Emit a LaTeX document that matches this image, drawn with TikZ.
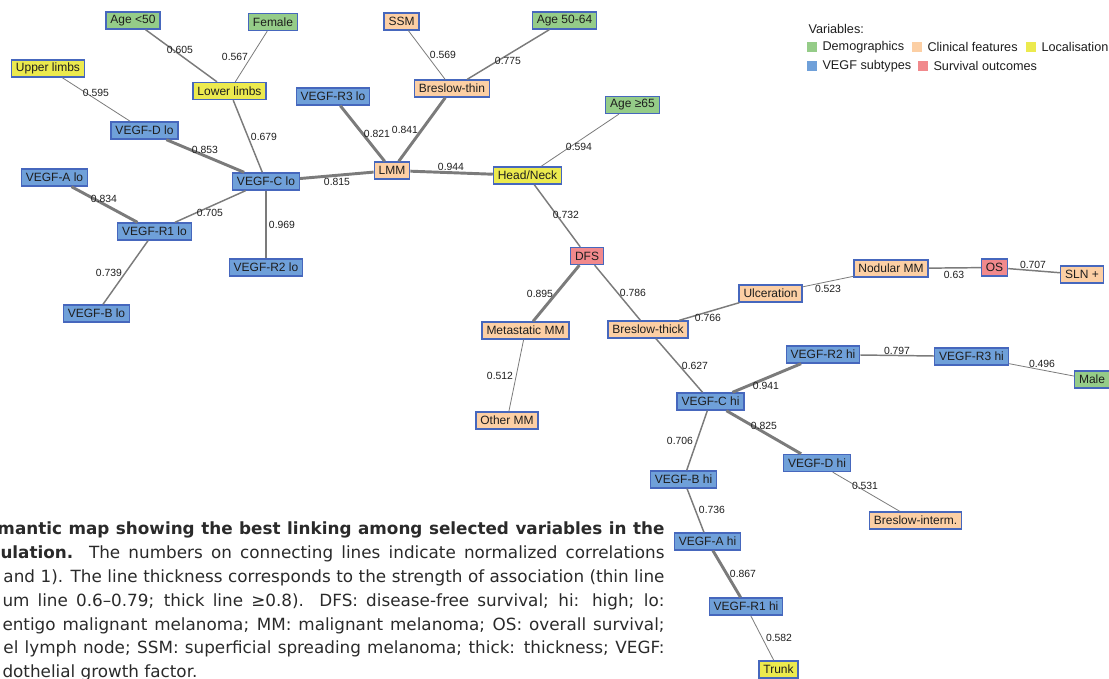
\documentclass[tikz,border=0pt]{standalone}
\usepackage{fontspec}
\setmainfont{Liberation Sans}
\newfontfamily\capfont{DejaVu Sans}

\definecolor{cdemo}{HTML}{95CC88}
\definecolor{cclin}{HTML}{FCCFA4}
\definecolor{cloc}{HTML}{ECEA4E}
\definecolor{cvegf}{HTML}{6FA0D9}
\definecolor{csurv}{HTML}{F1898C}
\definecolor{cborder}{HTML}{4667BD}
\definecolor{cedge}{HTML}{7B7B7B}
\definecolor{ctext}{HTML}{1E1E1E}
\definecolor{ccap}{HTML}{2A2A2A}

\tikzset{every picture/.style={line width=0.75pt}}
\tikzset{
  var/.style={draw=cborder, line width=1pt, minimum height=12.75pt, inner xsep=3.3pt, inner ysep=0pt,
    text=ctext, font=\fontsize{9}{10}\selectfont},
  demo/.style={var, fill=cdemo},
  clin/.style={var, fill=cclin},
  loc/.style={var, fill=cloc},
  vegf/.style={var, fill=cvegf},
  surv/.style={var, fill=csurv},
  weak/.style={draw=cedge, line width=0.6pt},
  moderate/.style={draw=cedge, line width=1.1pt},
  strong/.style={draw=cedge, line width=2.2pt},
  corr/.style={inner sep=0.75pt, text=ctext, font=\fontsize{7.8}{9}\selectfont},
  legtext/.style={anchor=west, inner sep=0pt, text=ctext, font=\fontsize{9.5}{11}\selectfont},
  swatch/.style={minimum size=7.5pt, inner sep=0pt},
  capline/.style={anchor=base west, inner sep=0pt, text=ccap, font=\capfont\fontsize{12.6}{18}\selectfont}
}

\begin{document}
\begin{tikzpicture}[x=0.75pt,y=0.75pt,yscale=-1,xscale=1]
\path[use as bounding box] (0,0) rectangle (1109,678);

% Variables
\node[demo] (age50) at (133,20.5) {Age <50};
\node[demo] (female) at (273,22) {Female};
\node[clin] (ssm) at (401.5,21.5) {SSM};
\node[demo] (age5064) at (564.5,20.5) {Age 50-64};
\node[loc] (uplimb) at (48,68.5) {Upper limbs};
\node[loc] (lowlimb) at (229.5,91) {Lower limbs};
\node[vegf] (r3lo) at (333,96.5) {VEGF-R3 lo};
\node[clin] (bthin) at (452,88.5) {Breslow-thin};
\node[demo] (age65) at (632.5,105) {Age ≥65};
\node[vegf] (dlo) at (144.5,130.5) {VEGF-D lo};
\node[clin] (lmm) at (392,170.5) {LMM};
\node[loc] (headneck) at (527.5,175.5) {Head/Neck};
\node[vegf] (alo) at (54.5,177.5) {VEGF-A lo};
\node[vegf] (clo) at (266,181.5) {VEGF-C lo};
\node[vegf] (r1lo) at (154.5,231.5) {VEGF-R1 lo};
\node[vegf] (r2lo) at (266,267.5) {VEGF-R2 lo};
\node[surv] (dfs) at (587,256) {DFS};
\node[vegf] (blo) at (96.5,313.5) {VEGF-B lo};
\node[clin] (nodular) at (891,268.5) {Nodular MM};
\node[surv] (os) at (994.5,267.5) {OS};
\node[clin] (sln) at (1082,274.5) {SLN +};
\node[clin] (ulcer) at (770.5,293.5) {Ulceration};
\node[clin] (metmm) at (525.5,330.5) {Metastatic MM};
\node[clin] (bthick) at (648,329.5) {Breslow-thick};
\node[vegf] (r2hi) at (823,354.5) {VEGF-R2 hi};
\node[vegf] (r3hi) at (971.5,356.5) {VEGF-R3 hi};
\node[demo] (male) at (1092,379.5) {Male};
\node[vegf] (chi) at (710.5,401.5) {VEGF-C hi};
\node[clin] (othermm) at (507,420.5) {Other MM};
\node[vegf] (dhi) at (817,463) {VEGF-D hi};
\node[vegf] (bhi) at (683.5,479.5) {VEGF-B hi};
\node[clin] (bint) at (915.5,520.5) {Breslow-interm.};
\node[vegf] (ahi) at (707.5,541.5) {VEGF-A hi};
\node[vegf] (r1hi) at (746,606.5) {VEGF-R1 hi};
\node[loc] (trunk) at (778.5,669.5) {Trunk};

% Links
\draw[moderate] (age50) -- (lowlimb);
\draw[weak] (female) -- (lowlimb);
\draw[weak] (uplimb) -- (dlo);
\draw[moderate] (lowlimb) -- (clo);
\draw[strong] (dlo) -- (clo);
\draw[strong] (clo) -- (lmm);
\draw[strong] (r3lo) -- (lmm);
\draw[strong] (bthin) -- (lmm);
\draw[weak] (ssm) -- (bthin);
\draw[moderate] (age5064) -- (bthin);
\draw[strong] (lmm) -- (headneck);
\draw[weak] (age65) -- (headneck);
\draw[moderate] (headneck) -- (dfs);
\draw[strong] (alo) -- (r1lo);
\draw[moderate] (clo) -- (r1lo);
\draw[strong] (clo) -- (r2lo);
\draw[moderate] (r1lo) -- (blo);
\draw[strong] (dfs) -- (metmm);
\draw[moderate] (dfs) -- (bthick);
\draw[weak] (metmm) -- (othermm);
\draw[moderate] (bthick) -- (ulcer);
\draw[weak] (ulcer) -- (nodular);
\draw[moderate] (nodular) -- (os);
\draw[moderate] (os) -- (sln);
\draw[moderate] (bthick) -- (chi);
\draw[strong] (chi) -- (r2hi);
\draw[moderate] (r2hi) -- (r3hi);
\draw[weak] (r3hi) -- (male);
\draw[strong] (chi) -- (dhi);
\draw[weak] (dhi) -- (bint);
\draw[moderate] (chi) -- (bhi);
\draw[moderate] (bhi) -- (ahi);
\draw[strong] (ahi) -- (r1hi);
\draw[weak] (r1hi) -- (trunk);

% Correlations
\node[corr] (c1) at (180,49.5) {0.605};
\node[corr] (c2) at (235,57) {0.567};
\node[corr] (c3) at (96,93) {0.595};
\node[corr] (c4) at (264,136.5) {0.679};
\node[corr] (c5) at (205,150) {0.853};
\node[corr] (c6) at (337,182) {0.815};
\node[corr] (c7) at (377,133.5) {0.821};
\node[corr] (c8) at (405,130) {0.841};
\node[corr] (c9) at (443,55) {0.569};
\node[corr] (c10) at (508,61) {0.775};
\node[corr] (c11) at (579,147) {0.594};
\node[corr] (c12) at (451,167) {0.944};
\node[corr] (c13) at (566,215) {0.732};
\node[corr] (c14) at (104,199) {0.834};
\node[corr] (c15) at (210,213) {0.705};
\node[corr] (c16) at (282,225) {0.969};
\node[corr] (c17) at (109,273) {0.739};
\node[corr] (c18) at (540,294) {0.895};
\node[corr] (c19) at (633,293) {0.786};
\node[corr] (c20) at (708,318) {0.766};
\node[corr] (c21) at (828,289) {0.523};
\node[corr] (c22) at (954,275) {0.63};
\node[corr] (c23) at (1033,265) {0.707};
\node[corr] (c24) at (500,376) {0.512};
\node[corr] (c25) at (695,366) {0.627};
\node[corr] (c26) at (766,386) {0.941};
\node[corr] (c27) at (897,351) {0.797};
\node[corr] (c28) at (1042,364) {0.496};
\node[corr] (c29) at (764,426) {0.825};
\node[corr] (c30) at (680,441) {0.706};
\node[corr] (c31) at (865,486) {0.531};
\node[corr] (c32) at (712,510) {0.736};
\node[corr] (c33) at (743,574) {0.867};
\node[corr] (c34) at (779,638) {0.582};

% Legend
\node[legtext] (legtitle) at (808,28.5) {Variables:};
\node[swatch, fill=cdemo] (sw1) at (812,47) {};
\node[legtext] (lg1) at (822,47) {Demographics};
\node[swatch, fill=cclin] (sw2) at (917,47) {};
\node[legtext] (lg2) at (927,47) {Clinical features};
\node[swatch, fill=cloc] (sw3) at (1031,47) {};
\node[legtext] (lg3) at (1041,47) {Localisation};
\node[swatch, fill=cvegf] (sw4) at (812,66) {};
\node[legtext] (lg4) at (822,66) {VEGF subtypes};
\node[swatch, fill=csurv] (sw5) at (923,66) {};
\node[legtext] (lg5) at (933,66) {Survival outcomes};

% Caption
\begin{scope}
\clip (0,0) rectangle (1109,678);
\node[capline] (cap1) at (-3,534) {\makebox[500.25pt][s]{\bfseries mantic map showing the best linking among selected variables in the}};
\node[capline] (cap2) at (0,558) {\makebox[498pt][s]{\textbf{ulation.} The numbers on connecting lines indicate normalized correlations}};
\node[capline] (cap3) at (3,582) {\makebox[495.75pt][s]{and 1). The line thickness corresponds to the strength of association (thin line}};
\node[capline] (cap4) at (2,606) {\makebox[496.5pt][s]{um line 0.6–0.79; thick line ≥0.8). DFS: disease-free survival; hi: high; lo:}};
\node[capline] (cap5) at (2,630) {\makebox[496.5pt][s]{entigo malignant melanoma; MM: malignant melanoma; OS: overall survival;}};
\node[capline] (cap6) at (3,653) {\makebox[495.75pt][s]{el lymph node; SSM: superficial spreading melanoma; thick: thickness; VEGF:}};
\node[capline] (cap7) at (2,677) {dothelial growth factor.};
\end{scope}

\end{tikzpicture}
\end{document}
